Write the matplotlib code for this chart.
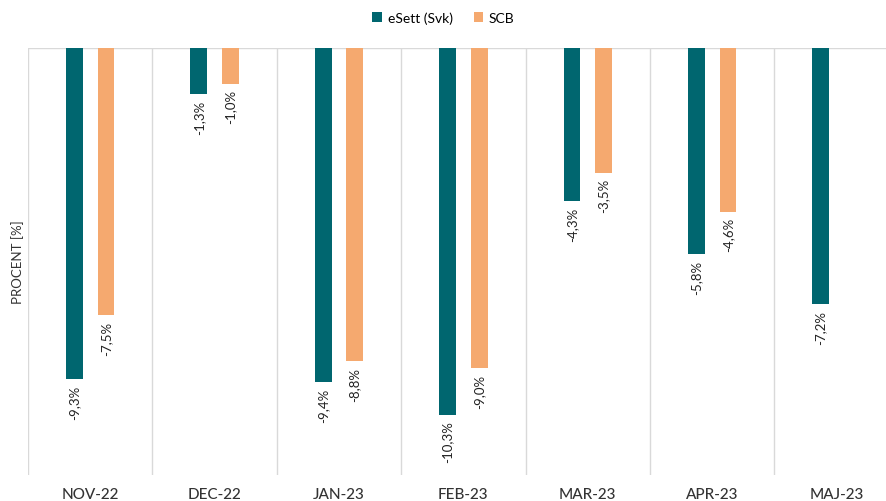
import numpy as np
import matplotlib.pyplot as plt

months = ["NOV-22", "DEC-22", "JAN-23", "FEB-23", "MAR-23", "APR-23", "MAJ-23"]
esett = [-9.3, -1.3, -9.4, -10.3, -4.3, -5.8, -7.2]
scb = [-7.5, -1.0, -8.8, -9.0, -3.5, -4.6, np.nan]

plt.rcParams['font.family'] = ['Lato', 'DejaVu Sans']

fig = plt.figure(figsize=(8.87, 5.02), dpi=100)
# right edge of the plot runs past the image, as in the original
ax = fig.add_axes([28 / 887, 26 / 502, 870.7 / 887, 427 / 502])

x = np.arange(len(months))
w = 0.135
off = 0.127
b1 = ax.bar(x - off, esett, w, color="#00666F", label="eSett (Svk)")
b2 = ax.bar(x + off, scb, w, color="#F5A96F", label="SCB")

for bars, vals in [(b1, esett), (b2, scb)]:
    for bar, v in zip(bars, vals):
        if np.isnan(v):
            continue
        ax.annotate(f"{v:.1f}%".replace(".", ","),
                    (bar.get_x() + bar.get_width() / 2, v),
                    xytext=(0, -4), textcoords="offset points",
                    rotation=90, ha="center", va="top", fontsize=9.5, color="#222222")

ax.set_xlim(-0.5, len(months) - 0.5)
ax.set_ylim(-12, 0)
for i in range(len(months) + 1):
    ax.axvline(i - 0.5, color="#d9d9d9", lw=1, zorder=0)
ax.axhline(0, color="#d9d9d9", lw=1, zorder=0)

for s in ax.spines.values():
    s.set_visible(False)
ax.set_yticks([])
ax.set_xticks(x)
ax.set_xticklabels(months, fontsize=11, color="#333333", fontweight="medium")
ax.tick_params(axis="x", length=0, pad=9)
ax.set_ylabel("PROCENT [%]", fontsize=9.5, color="#333333", labelpad=3)

fig.legend(loc="upper center", bbox_to_anchor=(0.5, 1.0), ncol=2, frameon=False,
           fontsize=10, handlelength=0.7, handleheight=0.7, columnspacing=1.5,
           handletextpad=0.4)

fig.savefig("out.png", dpi=100)
